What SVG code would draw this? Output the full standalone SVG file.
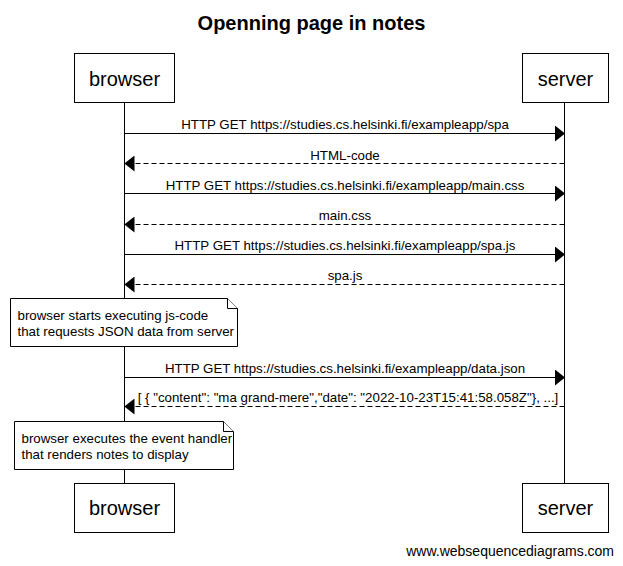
<svg xmlns="http://www.w3.org/2000/svg" width="623" height="566" viewBox="0 0 623 566">
<style>
text{font-family:"Liberation Sans",Arial,sans-serif;fill:#000}
.title{font-size:20px;font-weight:bold;text-anchor:middle}
.actor rect{fill:#fff;stroke:#000;stroke-width:1}
.actor text{font-size:20px;text-anchor:middle}
.life{stroke:#000;stroke-width:1;fill:none}
.msg{stroke:#000;stroke-width:1;fill:none}
.dash{stroke-dasharray:5 3}
.lbl{font-size:13.3px;text-anchor:middle}
.note path{fill:#fff;stroke:#000;stroke-width:1}
.note text{font-size:13.3px}
.wm{font-size:14px;text-anchor:end}
</style>
<defs>
<marker id="ah" viewBox="0 0 10 16" refX="10" refY="8" markerWidth="10" markerHeight="16" markerUnits="userSpaceOnUse" orient="auto">
<path d="M0,0 L10,8 L0,16 Z" fill="#000" stroke="none"/>
</marker>
</defs>
<rect width="623" height="566" fill="#fff"/>
<text class="title" x="311.5" y="30">Openning page in notes</text>
<g id="lifelines">
<line class="life" x1="124.5" y1="102" x2="124.5" y2="484"/>
<line class="life" x1="564.5" y1="102" x2="564.5" y2="484"/>
</g>
<g id="browser-top" class="actor"><rect x="74.5" y="53.5" width="100" height="49"/><text x="124.5" y="86">browser</text></g>
<g id="server-top" class="actor"><rect x="522.5" y="53.5" width="86" height="49"/><text x="565.5" y="86">server</text></g>
<g id="connectors">
<line class="msg" x1="124.5" y1="133.5" x2="565" y2="133.5" marker-end="url(#ah)"/>
<text class="lbl" x="345" y="129">HTTP GET https://studies.cs.helsinki.fi/exampleapp/spa</text>
<line class="msg dash" x1="564.5" y1="163.5" x2="124.5" y2="163.5" marker-end="url(#ah)"/>
<text class="lbl" x="345" y="159.5">HTML-code</text>
<line class="msg" x1="124.5" y1="193.5" x2="565" y2="193.5" marker-end="url(#ah)"/>
<text class="lbl" x="345" y="189.5">HTTP GET https://studies.cs.helsinki.fi/exampleapp/main.css</text>
<line class="msg dash" x1="564.5" y1="224.5" x2="124.5" y2="224.5" marker-end="url(#ah)"/>
<text class="lbl" x="345" y="220">main.css</text>
<line class="msg" x1="124.5" y1="254.5" x2="565" y2="254.5" marker-end="url(#ah)"/>
<text class="lbl" x="345" y="250">HTTP GET https://studies.cs.helsinki.fi/exampleapp/spa.js</text>
<line class="msg dash" x1="564.5" y1="284.5" x2="124.5" y2="284.5" marker-end="url(#ah)"/>
<text class="lbl" x="345" y="280">spa.js</text>
<line class="msg" x1="124.5" y1="377.5" x2="565" y2="377.5" marker-end="url(#ah)"/>
<text class="lbl" x="345" y="373">HTTP GET https://studies.cs.helsinki.fi/exampleapp/data.json</text>
<line class="msg dash" x1="564.5" y1="406.5" x2="124.5" y2="406.5" marker-end="url(#ah)"/>
<text class="lbl" x="348" y="402">[ { "content": "ma grand-mere","date": "2022-10-23T15:41:58.058Z"}, ...]</text>
</g>
<g id="note1" class="note">
<path d="M10.5,298.5 H227.5 L237.5,308.5 V346.5 H10.5 Z"/>
<path d="M227.5,298.5 V308.5 H237.5"/>
<text x="17.5" y="319.5">browser starts executing js-code</text>
<text x="17.5" y="335.5">that requests JSON data from server</text>
</g>
<g id="note2" class="note">
<path d="M14.5,421.5 H223.5 L233.5,431.5 V469.5 H14.5 Z"/>
<path d="M223.5,421.5 V431.5 H233.5"/>
<text x="21.5" y="442.5">browser executes the event handler</text>
<text x="21.5" y="458.5">that renders notes to display</text>
</g>
<g id="browser-bottom" class="actor"><rect x="74.5" y="483.5" width="100" height="49"/><text x="124.5" y="515">browser</text></g>
<g id="server-bottom" class="actor"><rect x="522.5" y="483.5" width="86" height="49"/><text x="565.5" y="515">server</text></g>
<text class="wm" x="614" y="556">www.websequencediagrams.com</text>
</svg>
